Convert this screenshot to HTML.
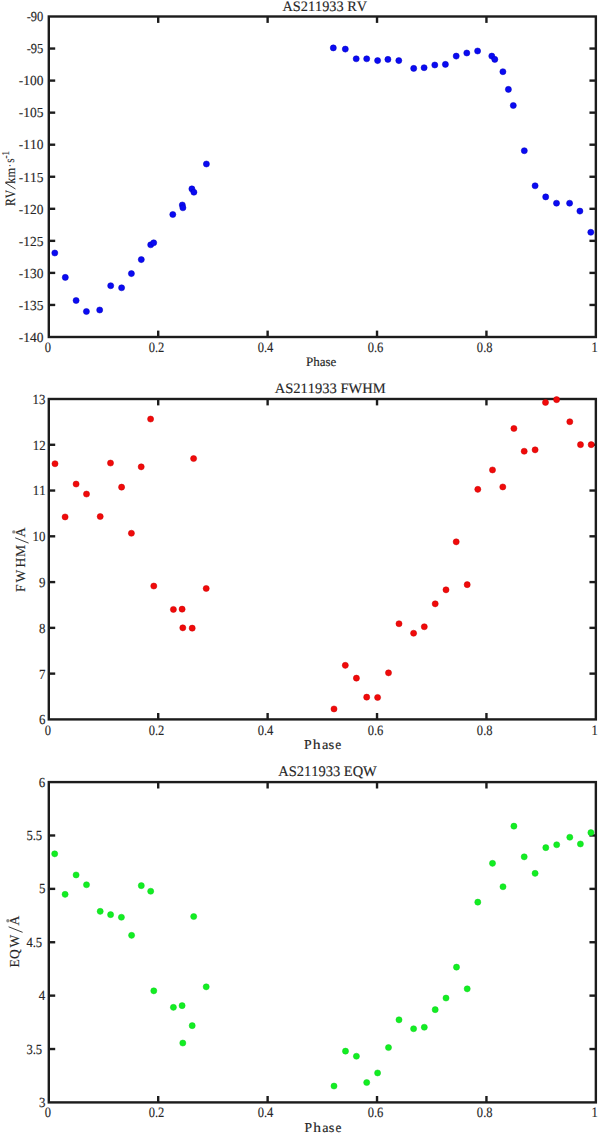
<!DOCTYPE html>
<html><head><meta charset="utf-8"><style>
html,body{margin:0;padding:0;background:#fff;}
svg{display:block;}
text{font-family:"Liberation Serif",serif;fill:#262626;font-kerning:none;stroke:#262626;stroke-width:0.14px;text-rendering:geometricPrecision;}
</style></head><body>
<svg width="598" height="1133" viewBox="0 0 598 1133">
<rect width="598" height="1133" fill="#fff"/>
<rect x="48.8" y="16.5" width="547.05" height="320.50" fill="none" stroke="#1c1c1c" stroke-width="2.4"/>
<rect x="48.8" y="399.0" width="547.05" height="320.40" fill="none" stroke="#1c1c1c" stroke-width="2.4"/>
<rect x="48.8" y="782.1" width="547.05" height="320.30" fill="none" stroke="#1c1c1c" stroke-width="2.4"/>
<line x1="158.21" y1="337.0" x2="158.21" y2="330.6" stroke="#1c1c1c" stroke-width="2.4"/>
<line x1="158.21" y1="16.5" x2="158.21" y2="22.9" stroke="#1c1c1c" stroke-width="2.4"/>
<line x1="267.62" y1="337.0" x2="267.62" y2="330.6" stroke="#1c1c1c" stroke-width="2.4"/>
<line x1="267.62" y1="16.5" x2="267.62" y2="22.9" stroke="#1c1c1c" stroke-width="2.4"/>
<line x1="377.03" y1="337.0" x2="377.03" y2="330.6" stroke="#1c1c1c" stroke-width="2.4"/>
<line x1="377.03" y1="16.5" x2="377.03" y2="22.9" stroke="#1c1c1c" stroke-width="2.4"/>
<line x1="486.44" y1="337.0" x2="486.44" y2="330.6" stroke="#1c1c1c" stroke-width="2.4"/>
<line x1="486.44" y1="16.5" x2="486.44" y2="22.9" stroke="#1c1c1c" stroke-width="2.4"/>
<line x1="158.21" y1="719.4" x2="158.21" y2="713.0" stroke="#1c1c1c" stroke-width="2.4"/>
<line x1="158.21" y1="399.0" x2="158.21" y2="405.4" stroke="#1c1c1c" stroke-width="2.4"/>
<line x1="267.62" y1="719.4" x2="267.62" y2="713.0" stroke="#1c1c1c" stroke-width="2.4"/>
<line x1="267.62" y1="399.0" x2="267.62" y2="405.4" stroke="#1c1c1c" stroke-width="2.4"/>
<line x1="377.03" y1="719.4" x2="377.03" y2="713.0" stroke="#1c1c1c" stroke-width="2.4"/>
<line x1="377.03" y1="399.0" x2="377.03" y2="405.4" stroke="#1c1c1c" stroke-width="2.4"/>
<line x1="486.44" y1="719.4" x2="486.44" y2="713.0" stroke="#1c1c1c" stroke-width="2.4"/>
<line x1="486.44" y1="399.0" x2="486.44" y2="405.4" stroke="#1c1c1c" stroke-width="2.4"/>
<line x1="158.21" y1="1102.4" x2="158.21" y2="1096.0" stroke="#1c1c1c" stroke-width="2.4"/>
<line x1="158.21" y1="782.1" x2="158.21" y2="788.5" stroke="#1c1c1c" stroke-width="2.4"/>
<line x1="267.62" y1="1102.4" x2="267.62" y2="1096.0" stroke="#1c1c1c" stroke-width="2.4"/>
<line x1="267.62" y1="782.1" x2="267.62" y2="788.5" stroke="#1c1c1c" stroke-width="2.4"/>
<line x1="377.03" y1="1102.4" x2="377.03" y2="1096.0" stroke="#1c1c1c" stroke-width="2.4"/>
<line x1="377.03" y1="782.1" x2="377.03" y2="788.5" stroke="#1c1c1c" stroke-width="2.4"/>
<line x1="486.44" y1="1102.4" x2="486.44" y2="1096.0" stroke="#1c1c1c" stroke-width="2.4"/>
<line x1="486.44" y1="782.1" x2="486.44" y2="788.5" stroke="#1c1c1c" stroke-width="2.4"/>
<line x1="48.8" y1="48.55" x2="55.199999999999996" y2="48.55" stroke="#1c1c1c" stroke-width="2.4"/>
<line x1="595.85" y1="48.55" x2="589.45" y2="48.55" stroke="#1c1c1c" stroke-width="2.4"/>
<line x1="48.8" y1="80.60" x2="55.199999999999996" y2="80.60" stroke="#1c1c1c" stroke-width="2.4"/>
<line x1="595.85" y1="80.60" x2="589.45" y2="80.60" stroke="#1c1c1c" stroke-width="2.4"/>
<line x1="48.8" y1="112.65" x2="55.199999999999996" y2="112.65" stroke="#1c1c1c" stroke-width="2.4"/>
<line x1="595.85" y1="112.65" x2="589.45" y2="112.65" stroke="#1c1c1c" stroke-width="2.4"/>
<line x1="48.8" y1="144.70" x2="55.199999999999996" y2="144.70" stroke="#1c1c1c" stroke-width="2.4"/>
<line x1="595.85" y1="144.70" x2="589.45" y2="144.70" stroke="#1c1c1c" stroke-width="2.4"/>
<line x1="48.8" y1="176.75" x2="55.199999999999996" y2="176.75" stroke="#1c1c1c" stroke-width="2.4"/>
<line x1="595.85" y1="176.75" x2="589.45" y2="176.75" stroke="#1c1c1c" stroke-width="2.4"/>
<line x1="48.8" y1="208.80" x2="55.199999999999996" y2="208.80" stroke="#1c1c1c" stroke-width="2.4"/>
<line x1="595.85" y1="208.80" x2="589.45" y2="208.80" stroke="#1c1c1c" stroke-width="2.4"/>
<line x1="48.8" y1="240.85" x2="55.199999999999996" y2="240.85" stroke="#1c1c1c" stroke-width="2.4"/>
<line x1="595.85" y1="240.85" x2="589.45" y2="240.85" stroke="#1c1c1c" stroke-width="2.4"/>
<line x1="48.8" y1="272.90" x2="55.199999999999996" y2="272.90" stroke="#1c1c1c" stroke-width="2.4"/>
<line x1="595.85" y1="272.90" x2="589.45" y2="272.90" stroke="#1c1c1c" stroke-width="2.4"/>
<line x1="48.8" y1="304.95" x2="55.199999999999996" y2="304.95" stroke="#1c1c1c" stroke-width="2.4"/>
<line x1="595.85" y1="304.95" x2="589.45" y2="304.95" stroke="#1c1c1c" stroke-width="2.4"/>
<line x1="48.8" y1="444.77" x2="55.199999999999996" y2="444.77" stroke="#1c1c1c" stroke-width="2.4"/>
<line x1="595.85" y1="444.77" x2="589.45" y2="444.77" stroke="#1c1c1c" stroke-width="2.4"/>
<line x1="48.8" y1="490.54" x2="55.199999999999996" y2="490.54" stroke="#1c1c1c" stroke-width="2.4"/>
<line x1="595.85" y1="490.54" x2="589.45" y2="490.54" stroke="#1c1c1c" stroke-width="2.4"/>
<line x1="48.8" y1="536.31" x2="55.199999999999996" y2="536.31" stroke="#1c1c1c" stroke-width="2.4"/>
<line x1="595.85" y1="536.31" x2="589.45" y2="536.31" stroke="#1c1c1c" stroke-width="2.4"/>
<line x1="48.8" y1="582.09" x2="55.199999999999996" y2="582.09" stroke="#1c1c1c" stroke-width="2.4"/>
<line x1="595.85" y1="582.09" x2="589.45" y2="582.09" stroke="#1c1c1c" stroke-width="2.4"/>
<line x1="48.8" y1="627.86" x2="55.199999999999996" y2="627.86" stroke="#1c1c1c" stroke-width="2.4"/>
<line x1="595.85" y1="627.86" x2="589.45" y2="627.86" stroke="#1c1c1c" stroke-width="2.4"/>
<line x1="48.8" y1="673.63" x2="55.199999999999996" y2="673.63" stroke="#1c1c1c" stroke-width="2.4"/>
<line x1="595.85" y1="673.63" x2="589.45" y2="673.63" stroke="#1c1c1c" stroke-width="2.4"/>
<line x1="48.8" y1="835.48" x2="55.199999999999996" y2="835.48" stroke="#1c1c1c" stroke-width="2.4"/>
<line x1="595.85" y1="835.48" x2="589.45" y2="835.48" stroke="#1c1c1c" stroke-width="2.4"/>
<line x1="48.8" y1="888.87" x2="55.199999999999996" y2="888.87" stroke="#1c1c1c" stroke-width="2.4"/>
<line x1="595.85" y1="888.87" x2="589.45" y2="888.87" stroke="#1c1c1c" stroke-width="2.4"/>
<line x1="48.8" y1="942.25" x2="55.199999999999996" y2="942.25" stroke="#1c1c1c" stroke-width="2.4"/>
<line x1="595.85" y1="942.25" x2="589.45" y2="942.25" stroke="#1c1c1c" stroke-width="2.4"/>
<line x1="48.8" y1="995.63" x2="55.199999999999996" y2="995.63" stroke="#1c1c1c" stroke-width="2.4"/>
<line x1="595.85" y1="995.63" x2="589.45" y2="995.63" stroke="#1c1c1c" stroke-width="2.4"/>
<line x1="48.8" y1="1049.02" x2="55.199999999999996" y2="1049.02" stroke="#1c1c1c" stroke-width="2.4"/>
<line x1="595.85" y1="1049.02" x2="589.45" y2="1049.02" stroke="#1c1c1c" stroke-width="2.4"/>
<text transform="matrix(0.9848,0,0,1,282.56,10.70)" font-size="14.50">AS211933 RV</text>
<text transform="matrix(1.0047,0,0,1,274.66,393.18)" font-size="14.47">AS211933 FWHM</text>
<text transform="matrix(0.9931,0,0,1,278.16,776.30)" font-size="14.60">AS211933 EQW</text>
<text transform="matrix(0.9074,0,0,1,26.69,21.25)" font-size="13.80">-90</text>
<text transform="matrix(0.9081,0,0,1,26.68,53.30)" font-size="13.80">-95</text>
<text transform="matrix(0.9729,0,0,1,18.80,85.35)" font-size="13.80">-100</text>
<text transform="matrix(0.9734,0,0,1,18.80,117.40)" font-size="13.80">-105</text>
<text transform="matrix(0.9729,0,0,1,18.80,149.45)" font-size="13.80">-110</text>
<text transform="matrix(0.9734,0,0,1,18.80,181.50)" font-size="13.80">-115</text>
<text transform="matrix(0.9729,0,0,1,18.80,213.55)" font-size="13.80">-120</text>
<text transform="matrix(0.9734,0,0,1,18.80,245.60)" font-size="13.80">-125</text>
<text transform="matrix(0.9729,0,0,1,18.80,277.65)" font-size="13.80">-130</text>
<text transform="matrix(0.9734,0,0,1,18.80,309.70)" font-size="13.80">-135</text>
<text transform="matrix(0.9729,0,0,1,18.80,341.75)" font-size="13.80">-140</text>
<text transform="matrix(0.9300,0,0,1,32.58,403.88)" font-size="13.90">13</text>
<text transform="matrix(0.9300,0,0,1,32.79,449.72)" font-size="13.90">12</text>
<text transform="matrix(0.9300,0,0,1,32.85,495.48)" font-size="13.90">11</text>
<text transform="matrix(0.9300,0,0,1,32.57,541.22)" font-size="13.90">10</text>
<text transform="matrix(0.9300,0,0,1,39.07,586.97)" font-size="13.90">9</text>
<text transform="matrix(0.9300,0,0,1,39.03,632.76)" font-size="13.90">8</text>
<text transform="matrix(0.9300,0,0,1,38.91,678.53)" font-size="13.90">7</text>
<text transform="matrix(0.9300,0,0,1,38.92,724.28)" font-size="13.90">6</text>
<text transform="matrix(0.9300,0,0,1,38.82,786.73)" font-size="13.90">6</text>
<text transform="matrix(0.9100,0,0,1,26.38,840.04)" font-size="13.90">5.5</text>
<text transform="matrix(0.9300,0,0,1,38.94,893.45)" font-size="13.90">5</text>
<text transform="matrix(0.9100,0,0,1,26.38,946.83)" font-size="13.90">4.5</text>
<text transform="matrix(0.9300,0,0,1,38.64,1000.31)" font-size="13.90">4</text>
<text transform="matrix(0.9100,0,0,1,26.38,1053.62)" font-size="13.90">3.5</text>
<text transform="matrix(0.9300,0,0,1,38.94,1107.03)" font-size="13.90">3</text>
<text transform="matrix(0.8760,0,0,1,44.72,351.89)" font-size="14.30">0</text>
<text transform="matrix(0.8760,0,0,1,148.68,351.85)" font-size="14.30">0.2</text>
<text transform="matrix(0.8760,0,0,1,257.73,351.85)" font-size="14.30">0.4</text>
<text transform="matrix(0.8760,0,0,1,367.67,351.85)" font-size="14.30">0.6</text>
<text transform="matrix(0.8760,0,0,1,476.87,351.85)" font-size="14.30">0.8</text>
<text transform="matrix(0.8760,0,0,1,591.54,351.92)" font-size="14.30">1</text>
<text transform="matrix(0.8760,0,0,1,44.72,734.69)" font-size="14.30">0</text>
<text transform="matrix(0.8760,0,0,1,148.68,734.65)" font-size="14.30">0.2</text>
<text transform="matrix(0.8760,0,0,1,257.73,734.65)" font-size="14.30">0.4</text>
<text transform="matrix(0.8760,0,0,1,367.67,734.65)" font-size="14.30">0.6</text>
<text transform="matrix(0.8760,0,0,1,476.87,734.65)" font-size="14.30">0.8</text>
<text transform="matrix(0.8760,0,0,1,591.54,734.72)" font-size="14.30">1</text>
<text transform="matrix(0.8760,0,0,1,44.72,1117.29)" font-size="14.30">0</text>
<text transform="matrix(0.8760,0,0,1,148.68,1117.25)" font-size="14.30">0.2</text>
<text transform="matrix(0.8760,0,0,1,257.73,1117.25)" font-size="14.30">0.4</text>
<text transform="matrix(0.8760,0,0,1,367.67,1117.25)" font-size="14.30">0.6</text>
<text transform="matrix(0.8760,0,0,1,476.87,1117.25)" font-size="14.30">0.8</text>
<text transform="matrix(0.8760,0,0,1,591.54,1117.32)" font-size="14.30">1</text>
<text transform="matrix(1.0050,0,0,1,305.93,366.27)" font-size="12.93">Phase</text>
<text transform="matrix(1.0110,0,0,1,304.10,749.20)" font-size="13.60">P</text>
<text transform="matrix(1.1560,0,0,1,312.85,749.20)" font-size="13.60">h</text>
<text transform="matrix(1.0610,0,0,1,321.89,749.20)" font-size="13.60">a</text>
<text transform="matrix(1.0840,0,0,1,328.40,749.20)" font-size="13.60">s</text>
<text transform="matrix(0.9933,0,0,1,335.17,749.20)" font-size="13.60">e</text>
<text transform="matrix(0.9959,0,0,1,304.41,1132.00)" font-size="13.60">P</text>
<text transform="matrix(1.1406,0,0,1,313.15,1132.00)" font-size="13.60">h</text>
<text transform="matrix(1.0424,0,0,1,322.20,1132.00)" font-size="13.60">a</text>
<text transform="matrix(1.0605,0,0,1,328.71,1132.00)" font-size="13.60">s</text>
<text transform="matrix(0.9735,0,0,1,335.48,1132.00)" font-size="13.60">e</text>
<text transform="matrix(0,-0.8193,1,0,14.80,205.94)" font-size="14.20">RV</text>
<line x1="5.2" y1="182.7" x2="15.5" y2="189.0" stroke="#262626" stroke-width="0.9" stroke-linecap="butt"/>
<text transform="matrix(0,-0.9182,1,0,14.60,183.63)" font-size="13.40">km</text>
<text transform="matrix(0,-1.1818,1,0,13.43,167.28)" font-size="9.31">·</text>
<text transform="matrix(0,-0.8189,1,0,14.47,162.85)" font-size="13.31">s</text>
<text transform="matrix(0,-0.8581,1,0,8.70,158.43)" font-size="10.45">-1</text>
<text transform="matrix(0,-1,1,0,25.40,600.00)" x="8.11 17.59 32.51 43.01" y="0" font-size="13.60">FWHM</text>
<line x1="15.2" y1="537.8" x2="28.6" y2="543.1" stroke="#262626" stroke-width="0.9" stroke-linecap="butt"/>
<text transform="matrix(0,-1,1,0,25.40,600.00)" x="62.77" y="0" font-size="13.60">A</text>
<circle cx="13.8" cy="531.9" r="1.7" fill="#8c8c8c"/>
<text transform="matrix(0,-1,1,0,18.80,600.00)" x="-367.59 -359.06 -347.51" y="0" font-size="13.60">EQW</text>
<line x1="8.6" y1="926.8" x2="22.6" y2="932.3" stroke="#262626" stroke-width="0.9" stroke-linecap="butt"/>
<text transform="matrix(0,-1,1,0,19.00,600.00)" x="-325.53" y="0" font-size="13.60">A</text>
<circle cx="7.9" cy="920.8" r="1.7" fill="#8c8c8c"/>
<g fill="#0a0af2" stroke="#0000c0" stroke-width="0.5">
<circle cx="54.8" cy="253.00" r="3.05"/>
<circle cx="65.3" cy="277.40" r="3.05"/>
<circle cx="76.1" cy="300.50" r="3.05"/>
<circle cx="86.4" cy="311.50" r="3.05"/>
<circle cx="99.7" cy="310.00" r="3.05"/>
<circle cx="110.7" cy="285.70" r="3.05"/>
<circle cx="121.6" cy="287.80" r="3.05"/>
<circle cx="131.4" cy="273.60" r="3.05"/>
<circle cx="141.3" cy="259.60" r="3.05"/>
<circle cx="150.7" cy="244.80" r="3.05"/>
<circle cx="153.7" cy="242.80" r="3.05"/>
<circle cx="172.8" cy="214.50" r="3.05"/>
<circle cx="182.3" cy="205.00" r="3.05"/>
<circle cx="182.9" cy="207.80" r="3.05"/>
<circle cx="191.9" cy="188.90" r="3.05"/>
<circle cx="193.9" cy="192.20" r="3.05"/>
<circle cx="206.4" cy="164.00" r="3.05"/>
<circle cx="333.3" cy="47.90" r="3.05"/>
<circle cx="345.3" cy="49.10" r="3.05"/>
<circle cx="356.2" cy="58.80" r="3.05"/>
<circle cx="366.7" cy="58.80" r="3.05"/>
<circle cx="377.6" cy="60.60" r="3.05"/>
<circle cx="387.9" cy="59.40" r="3.05"/>
<circle cx="398.8" cy="60.60" r="3.05"/>
<circle cx="413.7" cy="68.40" r="3.05"/>
<circle cx="424.1" cy="67.70" r="3.05"/>
<circle cx="434.8" cy="65.00" r="3.05"/>
<circle cx="445.4" cy="64.40" r="3.05"/>
<circle cx="456.2" cy="56.10" r="3.05"/>
<circle cx="466.8" cy="53.00" r="3.05"/>
<circle cx="477.6" cy="51.00" r="3.05"/>
<circle cx="491.8" cy="56.10" r="3.05"/>
<circle cx="494.8" cy="59.40" r="3.05"/>
<circle cx="502.9" cy="71.70" r="3.05"/>
<circle cx="508.4" cy="89.40" r="3.05"/>
<circle cx="513.3" cy="105.50" r="3.05"/>
<circle cx="524.3" cy="150.70" r="3.05"/>
<circle cx="535.1" cy="185.80" r="3.05"/>
<circle cx="545.7" cy="196.90" r="3.05"/>
<circle cx="556.5" cy="203.20" r="3.05"/>
<circle cx="569.6" cy="203.20" r="3.05"/>
<circle cx="579.9" cy="211.10" r="3.05"/>
<circle cx="590.8" cy="232.30" r="3.05"/>
</g>
<g fill="#f00a0a" stroke="#cc0000" stroke-width="0.5">
<circle cx="55" cy="463.75" r="3.05"/>
<circle cx="65.1" cy="516.95" r="3.05"/>
<circle cx="76.1" cy="484.05" r="3.05"/>
<circle cx="86.5" cy="494.05" r="3.05"/>
<circle cx="100.2" cy="516.55" r="3.05"/>
<circle cx="110.5" cy="463.05" r="3.05"/>
<circle cx="121.6" cy="487.15" r="3.05"/>
<circle cx="131.4" cy="533.25" r="3.05"/>
<circle cx="141.2" cy="466.85" r="3.05"/>
<circle cx="150.6" cy="419.05" r="3.05"/>
<circle cx="153.8" cy="586.05" r="3.05"/>
<circle cx="173.4" cy="609.45" r="3.05"/>
<circle cx="182.1" cy="609.15" r="3.05"/>
<circle cx="182.8" cy="627.85" r="3.05"/>
<circle cx="192.2" cy="628.15" r="3.05"/>
<circle cx="193.6" cy="458.55" r="3.05"/>
<circle cx="206.2" cy="588.45" r="3.05"/>
<circle cx="334" cy="708.95" r="3.05"/>
<circle cx="345.3" cy="665.35" r="3.05"/>
<circle cx="356.4" cy="678.15" r="3.05"/>
<circle cx="366.7" cy="697.15" r="3.05"/>
<circle cx="377.6" cy="697.45" r="3.05"/>
<circle cx="388.5" cy="672.85" r="3.05"/>
<circle cx="399" cy="623.75" r="3.05"/>
<circle cx="413.6" cy="633.25" r="3.05"/>
<circle cx="424.3" cy="626.75" r="3.05"/>
<circle cx="435.2" cy="603.85" r="3.05"/>
<circle cx="446" cy="589.85" r="3.05"/>
<circle cx="456.2" cy="541.85" r="3.05"/>
<circle cx="467.2" cy="584.65" r="3.05"/>
<circle cx="477.8" cy="489.35" r="3.05"/>
<circle cx="492.5" cy="469.95" r="3.05"/>
<circle cx="502.8" cy="486.95" r="3.05"/>
<circle cx="513.9" cy="428.45" r="3.05"/>
<circle cx="524.2" cy="451.25" r="3.05"/>
<circle cx="535.1" cy="449.85" r="3.05"/>
<circle cx="545.5" cy="402.45" r="3.05"/>
<circle cx="556.6" cy="399.65" r="3.05"/>
<circle cx="569.8" cy="421.75" r="3.05"/>
<circle cx="580.5" cy="444.65" r="3.05"/>
<circle cx="591.2" cy="444.65" r="3.05"/>
</g>
<g fill="#12ee22" stroke="#10d020" stroke-width="0.5">
<circle cx="54.7" cy="853.85" r="3.05"/>
<circle cx="65.1" cy="894.35" r="3.05"/>
<circle cx="76.1" cy="874.95" r="3.05"/>
<circle cx="86.5" cy="884.75" r="3.05"/>
<circle cx="100.2" cy="911.35" r="3.05"/>
<circle cx="110.6" cy="914.65" r="3.05"/>
<circle cx="121.4" cy="917.25" r="3.05"/>
<circle cx="131.6" cy="935.35" r="3.05"/>
<circle cx="141.3" cy="885.65" r="3.05"/>
<circle cx="150.7" cy="891.25" r="3.05"/>
<circle cx="153.8" cy="990.85" r="3.05"/>
<circle cx="173.4" cy="1007.35" r="3.05"/>
<circle cx="182.1" cy="1005.65" r="3.05"/>
<circle cx="182.8" cy="1043.05" r="3.05"/>
<circle cx="192.2" cy="1025.65" r="3.05"/>
<circle cx="193.7" cy="916.55" r="3.05"/>
<circle cx="206.2" cy="986.85" r="3.05"/>
<circle cx="334" cy="1086.05" r="3.05"/>
<circle cx="345.5" cy="1051.15" r="3.05"/>
<circle cx="356.4" cy="1056.25" r="3.05"/>
<circle cx="366.7" cy="1082.55" r="3.05"/>
<circle cx="377.6" cy="1072.95" r="3.05"/>
<circle cx="388.5" cy="1047.55" r="3.05"/>
<circle cx="399" cy="1019.85" r="3.05"/>
<circle cx="413.6" cy="1028.75" r="3.05"/>
<circle cx="424.3" cy="1027.25" r="3.05"/>
<circle cx="435.2" cy="1009.65" r="3.05"/>
<circle cx="446" cy="998.05" r="3.05"/>
<circle cx="456.5" cy="967.15" r="3.05"/>
<circle cx="467.2" cy="988.85" r="3.05"/>
<circle cx="477.8" cy="902.15" r="3.05"/>
<circle cx="492.5" cy="863.35" r="3.05"/>
<circle cx="503" cy="886.75" r="3.05"/>
<circle cx="513.9" cy="826.15" r="3.05"/>
<circle cx="524.2" cy="856.85" r="3.05"/>
<circle cx="535.1" cy="873.35" r="3.05"/>
<circle cx="545.8" cy="847.65" r="3.05"/>
<circle cx="556.7" cy="844.75" r="3.05"/>
<circle cx="569.8" cy="837.25" r="3.05"/>
<circle cx="580.4" cy="843.95" r="3.05"/>
<circle cx="590.9" cy="832.65" r="3.05"/>
</g>
</svg>
</body></html>
